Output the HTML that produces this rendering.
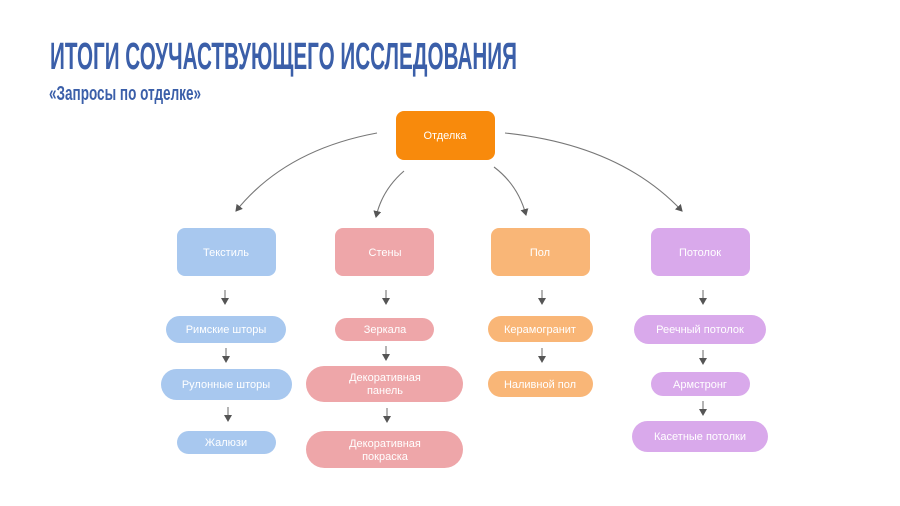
<!DOCTYPE html>
<html><head><meta charset="utf-8"><style>
html,body{margin:0;padding:0;background:#fff;width:900px;height:506px;overflow:hidden}
svg{display:block}
.t{font-family:"Liberation Sans",sans-serif;font-size:11px;fill:#fff;text-anchor:middle}
</style></head><body>
<svg width="900" height="506" viewBox="0 0 900 506" xmlns="http://www.w3.org/2000/svg">
<defs>
<marker id="a" markerWidth="8" markerHeight="8" refX="6" refY="4" orient="auto" markerUnits="userSpaceOnUse">
<path d="M0,0 L7,4 L0,8 z" fill="#555"/></marker>
</defs>
<text x="50" y="69" font-family="Liberation Sans Narrow,Liberation Sans,sans-serif" font-weight="bold" font-size="38" fill="#3b5fa9" textLength="467" lengthAdjust="spacingAndGlyphs">ИТОГИ СОУЧАСТВУЮЩЕГО ИССЛЕДОВАНИЯ</text>
<text x="49" y="100" font-family="Liberation Sans Narrow,Liberation Sans,sans-serif" font-weight="bold" font-size="20" fill="#3b5fa9" textLength="152" lengthAdjust="spacingAndGlyphs">«Запросы по отделке»</text>

<g fill="none" stroke="#777" stroke-width="1.1" marker-end="url(#a)">
<path d="M377,133 Q285,150 236,211"/>
<path d="M404,171 Q382,190 376,217"/>
<path d="M494,167 Q518,185 526,215"/>
<path d="M505,133 Q620,145 682,211"/>
<path d="M225,290 V304"/><path d="M226,348 V362"/><path d="M228,407 V421"/>
<path d="M386,290 V304"/><path d="M386,346 V360"/><path d="M387,408 V422"/>
<path d="M542,290 V304"/><path d="M542,348 V362"/>
<path d="M703,290 V304"/><path d="M703,350 V364"/><path d="M703,401 V415"/>
</g>

<rect x="396" y="111" width="99" height="49" rx="8" fill="#f88a0c"/>
<text class="t" x="445" y="139">Отделка</text>

<rect x="177" y="228" width="99" height="48" rx="8" fill="#a8c8ef"/><text class="t" x="226" y="256">Текстиль</text>
<rect x="335" y="228" width="99" height="48" rx="8" fill="#eea6a9"/><text class="t" x="385" y="256">Стены</text>
<rect x="491" y="228" width="99" height="48" rx="8" fill="#f9b677"/><text class="t" x="540" y="256">Пол</text>
<rect x="651" y="228" width="99" height="48" rx="8" fill="#d9a9eb"/><text class="t" x="700" y="256">Потолок</text>

<rect x="166" y="316" width="120" height="27" rx="13.5" fill="#a8c8ef"/><text class="t" x="226" y="333">Римские шторы</text>
<rect x="161" y="369" width="131" height="31" rx="15.5" fill="#a8c8ef"/><text class="t" x="226" y="388">Рулонные шторы</text>
<rect x="177" y="431" width="99" height="23" rx="11.5" fill="#a8c8ef"/><text class="t" x="226" y="446">Жалюзи</text>

<rect x="335" y="318" width="99" height="23" rx="11.5" fill="#eea6a9"/><text class="t" x="385" y="333">Зеркала</text>
<rect x="306" y="366" width="157" height="36" rx="18" fill="#eea6a9"/><text class="t" x="385" y="381">Декоративная</text><text class="t" x="385" y="394">панель</text>
<rect x="306" y="431" width="157" height="37" rx="18.5" fill="#eea6a9"/><text class="t" x="385" y="447">Декоративная</text><text class="t" x="385" y="460">покраска</text>

<rect x="488" y="316" width="105" height="26" rx="13" fill="#f9b677"/><text class="t" x="540" y="333">Керамогранит</text>
<rect x="488" y="371" width="105" height="26" rx="13" fill="#f9b677"/><text class="t" x="540" y="388">Наливной пол</text>

<rect x="634" y="315" width="132" height="29" rx="14.5" fill="#d9a9eb"/><text class="t" x="700" y="333">Реечный потолок</text>
<rect x="651" y="372" width="99" height="24" rx="12" fill="#d9a9eb"/><text class="t" x="700" y="388">Армстронг</text>
<rect x="632" y="421" width="136" height="31" rx="15.5" fill="#d9a9eb"/><text class="t" x="700" y="440">Касетные потолки</text>
</svg>
</body></html>
